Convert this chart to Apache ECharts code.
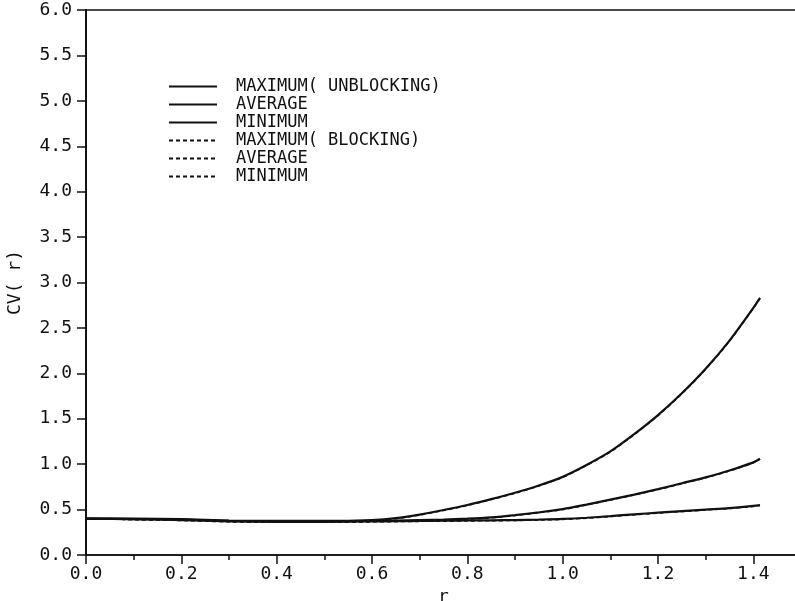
<!DOCTYPE html>
<html>
<head>
<meta charset="utf-8">
<script src="https://cdn.jsdelivr.net/npm/echarts@6/dist/echarts.min.js"></script>
<style>
  html, body { margin: 0; padding: 0; background: #fff; }
  #cvChart { width: 795px; height: 601px; }
</style>
</head>
<body>
<div id="cvChart"></div>
<script>
// r 取值（横坐标）
const rValues = [0, 0.1, 0.2, 0.3, 0.4, 0.5, 0.6, 0.65, 0.7, 0.75, 0.8, 0.85, 0.9, 0.95, 1.0, 1.05, 1.1, 1.15, 1.2, 1.25, 1.3, 1.35, 1.4, 1.414];
// unblocking
const maxUnblocking = [0.40, 0.40, 0.395, 0.38, 0.375, 0.375, 0.385, 0.405, 0.445, 0.495, 0.55, 0.615, 0.685, 0.765, 0.86, 0.99, 1.14, 1.33, 1.54, 1.78, 2.05, 2.36, 2.72, 2.83];
const avgUnblocking = [0.40, 0.395, 0.39, 0.375, 0.37, 0.37, 0.375, 0.38, 0.385, 0.39, 0.40, 0.415, 0.44, 0.47, 0.505, 0.555, 0.61, 0.665, 0.725, 0.79, 0.855, 0.93, 1.02, 1.06];
const minUnblocking = [0.40, 0.395, 0.385, 0.37, 0.365, 0.365, 0.37, 0.372, 0.375, 0.377, 0.38, 0.382, 0.385, 0.39, 0.397, 0.41, 0.428, 0.448, 0.466, 0.483, 0.50, 0.517, 0.54, 0.55];
// blocking
const maxBlocking = [0.40, 0.395, 0.39, 0.375, 0.37, 0.37, 0.38, 0.40, 0.44, 0.49, 0.545, 0.61, 0.68, 0.76, 0.855, 0.985, 1.135, 1.325, 1.535, 1.775, 2.045, 2.355, 2.715, 2.825];
const avgBlocking = [0.40, 0.39, 0.385, 0.37, 0.365, 0.365, 0.37, 0.375, 0.38, 0.385, 0.395, 0.41, 0.435, 0.465, 0.50, 0.55, 0.605, 0.66, 0.72, 0.785, 0.85, 0.925, 1.015, 1.055];
const minBlocking = [0.40, 0.39, 0.38, 0.365, 0.36, 0.36, 0.365, 0.367, 0.37, 0.372, 0.375, 0.377, 0.38, 0.385, 0.392, 0.405, 0.423, 0.443, 0.461, 0.478, 0.495, 0.512, 0.535, 0.545];

// 图例名（名称重复的用尾部空格区分）
const seriesNames = ['MAXIMUM( UNBLOCKING)', 'AVERAGE', 'MINIMUM', 'MAXIMUM( BLOCKING)', 'AVERAGE ', 'MINIMUM '];
const seriesData = [maxUnblocking, avgUnblocking, minUnblocking, maxBlocking, avgBlocking, minBlocking];

const monoFont = '"DejaVu Sans Mono", monospace';

const seriesArr = seriesData.map((vals, i) => ({
  name: seriesNames[i],
  type: 'line',
  smooth: 0.3,
  symbol: 'none',
  itemStyle: { color: '#111' },
  lineStyle: {
    color: '#111',
    width: i < 3 ? 2.2 : 1.5,
    type: i < 3 ? 'solid' : [4, 3],
  },
  data: rValues.map((r, k) => [r, vals[k]]),
}));

const cvChart = echarts.init(document.getElementById('cvChart'));
cvChart.setOption({
  backgroundColor: '#fff',
  animation: false,
  legend: {
    orient: 'vertical',
    left: 163,
    top: 73,
    itemWidth: 48,
    itemHeight: 14,
    itemGap: 1,
    data: seriesNames,
    itemStyle: { opacity: 0 },
    textStyle: {
      fontFamily: monoFont,
      fontSize: 17,
      color: '#111',
      padding: [0, 0, 0, 14],
    },
  },
  grid: { // 右侧边框画在画布外
    show: true,
    outerBoundsMode: 'none',
    containLabel: false,
    left: 86,
    right: -6,
    top: 10,
    bottom: 46,
    borderColor: '#111',
    borderWidth: 1.5,
  },
  xAxis: {
    type: 'value',
    min: 0,
    max: 1.5,
    interval: 0.2,
    name: 'r',
    nameLocation: 'middle',
    nameGap: 30,
    nameTextStyle: { fontFamily: monoFont, fontSize: 18, color: '#111' },
    axisLine: { lineStyle: { color: '#111', width: 1.5 } },
    axisTick: { length: 9, lineStyle: { color: '#111', width: 1.5 } },
    minorTick: { show: true, splitNumber: 2, length: 5, lineStyle: { color: '#111', width: 1.5 } },
    splitLine: { show: false },
    axisLabel: {
      margin: 10,
      showMaxLabel: false,
      fontFamily: monoFont,
      fontSize: 18,
      color: '#111',
      formatter: v => v.toFixed(1),
    },
  },
  yAxis: {
    type: 'value',
    min: 0,
    max: 6,
    interval: 0.5,
    name: 'CV( r)',
    nameLocation: 'middle',
    nameGap: 62,
    nameTextStyle: { fontFamily: monoFont, fontSize: 18, color: '#111' },
    axisLine: { show: true, lineStyle: { color: '#111', width: 2 } },
    axisTick: { show: true, length: 9, lineStyle: { color: '#111', width: 1.5 } },
    splitLine: { show: false },
    axisLabel: {
      margin: 14,
      fontFamily: monoFont,
      fontSize: 18,
      color: '#111',
      formatter: v => v.toFixed(1),
    },
  },
  series: seriesArr,
});
</script>
</body>
</html>
